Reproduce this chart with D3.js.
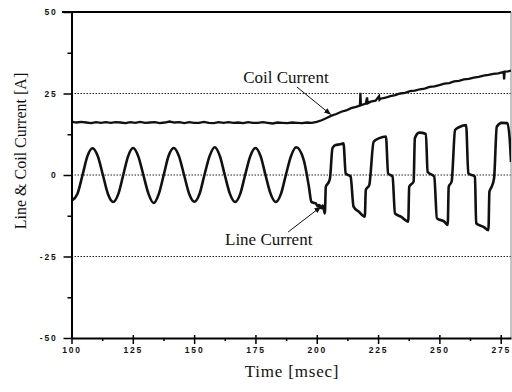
<!DOCTYPE html>
<html lang="en">
<head>
<meta charset="utf-8">
<title>Line &amp; Coil Current</title>
<script src="https://cdn.jsdelivr.net/npm/d3@7"></script>
<style>
  body { margin: 0; background: #fff; }
  svg { display: block; }
  .tick text { font-family: "Liberation Sans", Arial, sans-serif; font-size: 8.5px; font-weight: bold; letter-spacing: 1.8px; fill: #111; }
  .title { font-family: "Liberation Serif", "Times New Roman", serif; fill: #111; }
  .grid line { stroke: #222; stroke-dasharray: 1.5,1.5; stroke-width: 1; }
</style>
</head>
<body>
<div id="chart"></div>
<script>
// line current (A) vs time (msec)
var lineTime = [100, 102.4, 104.5, 106.5, 108.6, 110.7, 112.8, 114.9, 117, 119.1, 121.1, 123.1, 125.1, 127.2, 129.3, 131.4,
  133.5, 135.6, 137.6, 139.6, 141.7, 143.8, 145.9, 148, 150.1, 152.2, 154.2, 156.3, 158.4, 160.5, 162.5, 164.6,
  166.7, 168.8, 170.8, 172.9, 175, 177.1, 179.1, 181.2, 183.3, 185.4, 187.4, 189.5, 191.6, 194.7, 196.8, 197.8,
  198.6, 199.6, 200.4, 201, 201.9, 202.4, 203, 203.3, 203.7, 205, 205.4, 206.4, 207.7, 209.5, 210.9, 211.8,
  213.8, 215, 217.2, 219.6, 220, 221.4, 223.2, 225.5, 228.2, 229.1, 230.9, 231.9, 234.3, 237.3, 237.7, 239.5,
  240, 241.8, 244.5, 245.2, 247.9, 249, 252, 253.4, 253.8, 255, 256.4, 258.4, 260.9, 261.8, 264.5, 265,
  268, 270, 270.4, 271.3, 272.3, 273.4, 275.4, 277.7, 278.8, 279.2];
var lineAmps = [-7.9, -5.8, 0, 5.8, 8.2, 5.8, 0, -5.9, -8.3, -5.8, 0, 5.8, 8.3, 5.8, 0, -5.8,
  -8.6, -5.8, 0, 5.9, 8.3, 5.8, 0, -5.8, -8.2, -5.8, 0, 5.8, 8.5, 5.8, 0, -5.8,
  -8.3, -5.8, 0, 5.8, 8.3, 5.8, 0, -5.8, -8.3, -5.8, 0, 5.8, 8.5, 4.6, -3.6, -8.2,
  -8.5, -8.7, -9.6, -9.2, -10.2, -9.4, -11, -11.8, -3.6, -2, -1, 8.2, 9.2, 9.4, 9.7, 0.5,
  -0.5, -9.7, -11.3, -12.8, -4.6, -3.1, 10.2, 11.3, 11.8, 0.5, -0.5, -11.8, -12.8, -14.3, -3.6, -2,
  11.3, 13, 12.6, 1, -0.5, -13.3, -14.3, -15.3, -3.6, -2, 13.8, 14.8, 15.3, 0.5, -0.5, -14.8,
  -15.9, -16.9, -5.1, -3.6, -1, 14.8, 16, 15.9, 9.7, 4];

// coil current (A) vs time (msec)
var coilTime = [100, 102, 104, 106, 108, 110, 112, 114, 116, 118, 120, 122, 124, 126, 128, 130, 132, 134, 136, 138,
  140, 142, 144, 146, 148, 150, 152, 154, 156, 158, 160, 162, 164, 166, 168, 170, 172, 174, 176, 178,
  180, 182, 184, 186, 188, 190, 192, 194, 196, 198, 200, 202, 204, 206, 208, 210, 212, 214, 216, 217.6,
  217.8, 218, 220, 220.5, 220.8, 222, 224, 225.4, 225.6, 226, 228, 230, 232, 234, 236, 238, 240, 242,
  244, 246, 248, 250, 252, 254, 256, 258, 260, 262, 264, 266, 268, 270, 272, 274, 276.2, 276.4, 276.6, 278, 279.2];
var coilAmps = [16.4, 16.1, 16.3, 16.1, 15.9, 16.2, 16.0, 16.2, 16.0, 16.2, 16.1, 15.9, 16.2, 16.0, 16.3, 16.0, 16.1, 16.2, 15.9, 16.1,
  16.4, 16.1, 16.2, 15.9, 16.2, 16.0, 16.0, 16.3, 16.0, 15.9, 16.2, 16.0, 16.2, 16.0, 16.1, 15.9, 16.2, 16.0, 16.0, 16.2,
  16.0, 15.8, 16.1, 16.0, 15.9, 16.1, 16.0, 15.9, 16.1, 16.0, 16.3, 16.8, 17.5, 18.2, 18.7, 19.4, 19.8, 20.5, 20.9, 21.3,
  25.2, 21.4, 21.9, 23.8, 22.0, 22.5, 22.8, 24.2, 23.1, 23.4, 23.7, 24.2, 24.5, 25.0, 25.2, 25.7, 25.9, 26.3,
  26.5, 27.0, 27.2, 27.6, 28.0, 28.2, 28.7, 28.9, 29.3, 29.5, 29.9, 30.1, 30.5, 30.7, 31.0, 31.2, 31.6, 29.3, 31.7, 31.8, 32.0];

var xMajor = [100, 125, 150, 175, 200, 225, 250, 275];
var xMinor = [112.5, 137.5, 162.5, 187.5, 212.5, 237.5, 262.5];
var yMajor = [-50, -25, 0, 25, 50];
var yMinor = [-37.5, -12.5, 12.5, 37.5];
var gridLevels = [-25, 0, 25];

var w = 512, h = 392;
var plotLeft = 71.5, plotRight = 511, plotTop = 12, plotBottom = 338;

var svg = d3.select("#chart").append("svg")
  .attr("width", w)
  .attr("height", h);

var x = d3.scaleLinear().domain([100, 279.2]).range([plotLeft, plotRight]);
var y = d3.scaleLinear().domain([-50, 50]).range([plotBottom, plotTop]);

// dotted grid
svg.append("g").attr("class", "grid")
  .selectAll("line").data(gridLevels).enter().append("line")
  .attr("x1", plotLeft).attr("x2", plotRight)
  .attr("y1", function(d) { return y(d); })
  .attr("y2", function(d) { return y(d); });

// frame: top line and thin right edge
svg.append("line").attr("x1", 62).attr("x2", plotRight).attr("y1", plotTop).attr("y2", plotTop)
  .attr("stroke", "#000").attr("stroke-width", 2);
svg.append("line").attr("x1", plotRight).attr("x2", plotRight).attr("y1", plotTop).attr("y2", plotBottom)
  .attr("stroke", "#888").attr("stroke-width", 1);

// curves
svg.append("clipPath").attr("id", "plot").append("rect")
  .attr("x", plotLeft).attr("y", plotTop).attr("width", plotRight - plotLeft).attr("height", plotBottom - plotTop);

var lineGen = d3.line()
  .x(function(d) { return x(d[0]); })
  .y(function(d) { return y(d[1]); });

svg.append("path")
  .datum(d3.zip(coilTime, coilAmps))
  .attr("clip-path", "url(#plot)")
  .attr("fill", "none").attr("stroke", "#111").attr("stroke-width", 2.3)
  .attr("d", lineGen.curve(d3.curveLinear));

svg.append("path")
  .datum(d3.zip(lineTime, lineAmps))
  .attr("clip-path", "url(#plot)")
  .attr("fill", "none").attr("stroke", "#111").attr("stroke-width", 2.6)
  .attr("stroke-linejoin", "round")
  .attr("d", lineGen.curve(d3.curveMonotoneX));

// axes
var fmt = function(d) { return String(d); };

var xAxis = svg.append("g").attr("transform", "translate(0," + plotBottom + ")")
  .call(d3.axisBottom(x).tickValues(xMajor).tickSize(6).tickSizeOuter(0).tickPadding(3).tickFormat(fmt));
var xMinorAxis = svg.append("g").attr("transform", "translate(0," + plotBottom + ")")
  .call(d3.axisBottom(x).tickValues(xMinor).tickSize(3).tickFormat(""));
xMinorAxis.select(".domain").remove();

var yAxis = svg.append("g").attr("transform", "translate(" + plotLeft + ",0)")
  .call(d3.axisLeft(y).tickValues(yMajor).tickSize(8).tickSizeOuter(0).tickPadding(6).tickFormat(fmt));
var yMinorAxis = svg.append("g").attr("transform", "translate(" + plotLeft + ",0)")
  .call(d3.axisLeft(y).tickValues(yMinor).tickSize(4).tickFormat(""));
yMinorAxis.select(".domain").remove();

svg.selectAll(".domain").attr("stroke", "#000").attr("stroke-width", 2);
svg.selectAll(".tick line").attr("stroke", "#000").attr("stroke-width", 1.5);
xAxis.selectAll(".tick line").attr("y1", -3);

// axis titles
svg.append("text").attr("class", "title")
  .attr("x", 292).attr("y", 377)
  .attr("text-anchor", "middle")
  .style("font-size", "17px").style("letter-spacing", "0.8px")
  .text("Time [msec]");

svg.append("text").attr("class", "title")
  .attr("transform", "translate(26,151) rotate(-90)")
  .attr("text-anchor", "middle")
  .style("font-size", "16px")
  .text("Line & Coil Current [A]");

// annotations with arrows
svg.append("defs").append("marker")
  .attr("id", "head").attr("viewBox", "0 0 10 10")
  .attr("refX", 9).attr("refY", 5)
  .attr("markerWidth", 7).attr("markerHeight", 7)
  .attr("orient", "auto")
  .append("path").attr("d", "M0,1 L10,5 L0,9 Z").attr("fill", "#111");

var notes = [
  { label: "Coil Current", tx: 170, ty: 28.2, from: [191.9, 27], to: [205.6, 18.6] },
  { label: "Line Current", tx: 162.6, ty: -21.6, from: [188.3, -17.5], to: [201.6, -9.8] }
];

svg.selectAll(".note").data(notes).enter().append("text")
  .attr("class", "title note")
  .attr("x", function(d) { return x(d.tx); })
  .attr("y", function(d) { return y(d.ty); })
  .style("font-size", "17px")
  .text(function(d) { return d.label; });

svg.selectAll(".arrow").data(notes).enter().append("line")
  .attr("class", "arrow")
  .attr("x1", function(d) { return x(d.from[0]); })
  .attr("y1", function(d) { return y(d.from[1]); })
  .attr("x2", function(d) { return x(d.to[0]); })
  .attr("y2", function(d) { return y(d.to[1]); })
  .attr("stroke", "#111").attr("stroke-width", 1)
  .attr("marker-end", "url(#head)");
</script>
</body>
</html>
